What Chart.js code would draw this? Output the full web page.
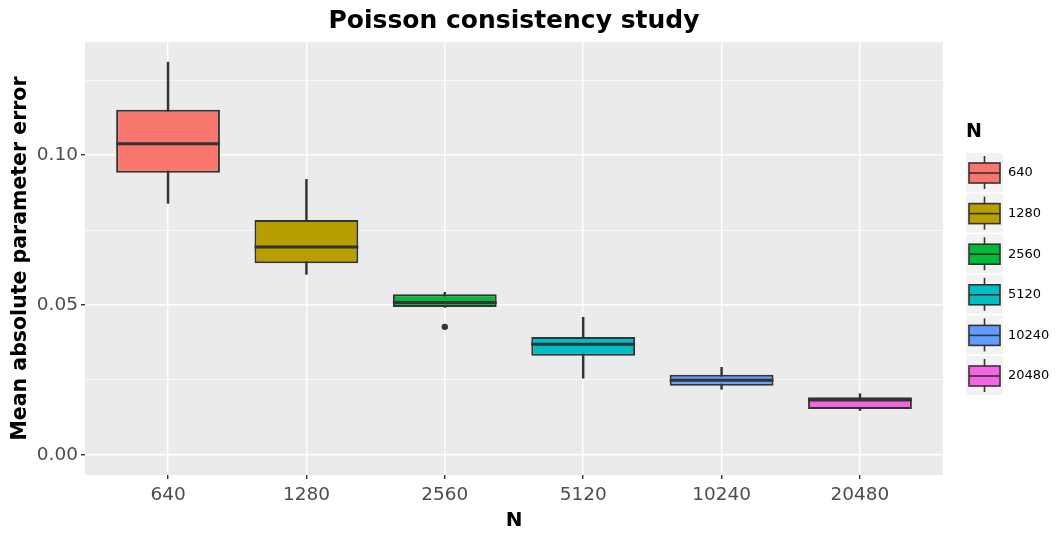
<!DOCTYPE html>
<html><head><meta charset="utf-8">
<script src="https://cdn.jsdelivr.net/npm/chart.js@4.4.0/dist/chart.umd.min.js"></script>
<style>html,body{margin:0;padding:0;background:#fff;} canvas{display:block;}</style>
</head><body>
<canvas id="c" width="1057" height="533"></canvas>
<script>
// ---- data ----
const categories = ['640', '1280', '2560', '5120', '10240', '20480'];
const whiskerLow  = [0.0839, 0.0602, 0.0492, 0.0256, 0.0219, 0.0148];
const q1          = [0.0941, 0.0639, 0.0493, 0.0331, 0.0231, 0.0153];
const median      = [0.1038, 0.0693, 0.0508, 0.0369, 0.0249, 0.0183];
const q3          = [0.1151, 0.0783, 0.0536, 0.0393, 0.0267, 0.0192];
const whiskerHigh = [0.1310, 0.0919, 0.0542, 0.0459, 0.0292, 0.0204];
const outlierCategory = [2];
const outlierValue = [0.0427];
const fillColors = ['#F8766D', '#B79F00', '#00BA38', '#00BFC4', '#619CFF', '#F564E3'];
const yTicks = [0, 0.025, 0.05, 0.075, 0.10, 0.125];
const yTickLabels = ['0.00', '', '0.05', '', '0.10', ''];

const FONT = 'DejaVu Sans';
const EDGE = '#333333';

const bgPlugin = {
  id: 'bg',
  beforeDraw(chart) {
    const {ctx, chartArea: a} = chart;
    ctx.save();
    ctx.fillStyle = '#ffffff';
    ctx.fillRect(0, 0, chart.width, chart.height);
    ctx.fillStyle = '#EBEBEB';
    ctx.fillRect(a.left, a.top, a.right - a.left, a.bottom - a.top);
    ctx.restore();
  }
};

const medianPlugin = {
  id: 'medians',
  afterDatasetsDraw(chart) {
    const meta = chart.getDatasetMeta(0);
    const y = chart.scales.y;
    const ctx = chart.ctx;
    ctx.save();
    ctx.strokeStyle = EDGE;
    ctx.lineWidth = 3;
    meta.data.forEach((el, i) => {
      const py = y.getPixelForValue(median[i]);
      ctx.beginPath();
      ctx.moveTo(el.x - el.width / 2, py);
      ctx.lineTo(el.x + el.width / 2, py);
      ctx.stroke();
    });
    ctx.restore();
  }
};

const legendPlugin = {
  id: 'boxLegend',
  afterDraw(chart) {
    const ctx = chart.ctx;
    const a = chart.chartArea;
    const x0 = a.right + 23;
    ctx.save();
    ctx.fillStyle = '#000';
    ctx.font = 'bold 19px ' + FONT;
    ctx.textBaseline = 'middle';
    ctx.textAlign = 'left';
    ctx.fillText('N', x0, 132);
    const keyW = 37, keyH = 40;
    categories.forEach((c, i) => {
      const top = 153 + i * 40.6;
      const cy = top + keyH / 2;
      ctx.fillStyle = '#F2F2F2';
      ctx.fillRect(x0, top, keyW, keyH - 1);
      const cx = x0 + keyW / 2;
      ctx.strokeStyle = EDGE;
      ctx.lineWidth = 1.6;
      ctx.beginPath();
      ctx.moveTo(cx, top + 3); ctx.lineTo(cx, top + keyH - 4);
      ctx.stroke();
      ctx.fillStyle = fillColors[i];
      ctx.fillRect(x0 + 3, cy - 10, keyW - 6, 20);
      ctx.strokeRect(x0 + 3, cy - 10, keyW - 6, 20);
      ctx.beginPath();
      ctx.moveTo(x0 + 3, cy); ctx.lineTo(x0 + keyW - 3, cy);
      ctx.stroke();
      ctx.fillStyle = '#000';
      ctx.font = '13px ' + FONT;
      ctx.fillText(c, x0 + keyW + 5, cy);
    });
    ctx.restore();
  }
};

new Chart(document.getElementById('c'), {
  type: 'bar',
  data: {
    datasets: [
      {
        label: 'box',
        data: categories.map((c, i) => ({x: i, y: [q1[i], q3[i]]})),
        backgroundColor: fillColors,
        borderColor: EDGE,
        borderWidth: 2,
        borderSkipped: false,
        barPercentage: 0.75,
        categoryPercentage: 1,
        grouped: false,
        order: 1
      },
      {
        label: 'whisker',
        data: categories.map((c, i) => ({x: i, y: [whiskerLow[i], whiskerHigh[i]]})),
        backgroundColor: EDGE,
        borderWidth: 0,
        barThickness: 1.8,
        grouped: false,
        order: 2
      },
      {
        type: 'scatter',
        label: 'outlier',
        data: outlierCategory.map((c, k) => ({x: c, y: outlierValue[k]})),
        pointRadius: 3.2,
        backgroundColor: EDGE,
        borderWidth: 0,
        order: 0
      }
    ]
  },
  options: {
    responsive: false,
    animation: false,
    devicePixelRatio: 1,
    layout: {padding: {left: 0, right: 114, top: 0, bottom: 0}},
    plugins: {
      legend: {display: false},
      tooltip: {enabled: false},
      title: {
        display: true,
        text: 'Poisson consistency study',
        fullSize: false,
        color: '#000',
        font: {family: FONT, size: 25, weight: 'bold'},
        padding: {top: 6, bottom: 6}
      }
    },
    scales: {
      x: {
        type: 'linear',
        min: -0.6,
        max: 5.6,
        offset: false,
        afterBuildTicks: s => { s.ticks = categories.map((c, i) => ({value: i})); },
        afterFit: s => { s.height = 58; },
        ticks: {
          autoSkip: false,
          maxRotation: 0,
          color: '#4D4D4D',
          font: {family: FONT, size: 18.5},
          padding: 5,
          callback: v => categories[v]
        },
        grid: {offset: false, color: '#ffffff', lineWidth: 1.4, tickColor: EDGE, tickLength: 4},
        border: {display: false},
        title: {display: true, text: 'N', color: '#000', font: {family: FONT, size: 20, weight: 'bold'}, padding: {top: 0, bottom: 0}}
      },
      y: {
        type: 'linear',
        min: -0.0067,
        max: 0.1377,
        afterBuildTicks: s => { s.ticks = yTicks.map(v => ({value: v})); },
        afterFit: s => { s.width = 85; },
        ticks: {
          color: '#4D4D4D',
          font: {family: FONT, size: 18.5},
          padding: 3,
          callback: (v, i) => yTickLabels[i]
        },
        grid: {
          color: '#ffffff',
          lineWidth: c => (yTickLabels[c.index] ? 1.4 : 0.7),
          tickColor: c => (yTickLabels[c.index] ? EDGE : 'rgba(0,0,0,0)'),
          tickLength: 4
        },
        border: {display: false},
        title: {display: true, text: 'Mean absolute parameter error', color: '#000', font: {family: FONT, size: 20.5, weight: 'bold'}, padding: {top: 8, bottom: 0}}
      }
    }
  },
  plugins: [bgPlugin, medianPlugin, legendPlugin]
});
</script>
</body></html>
